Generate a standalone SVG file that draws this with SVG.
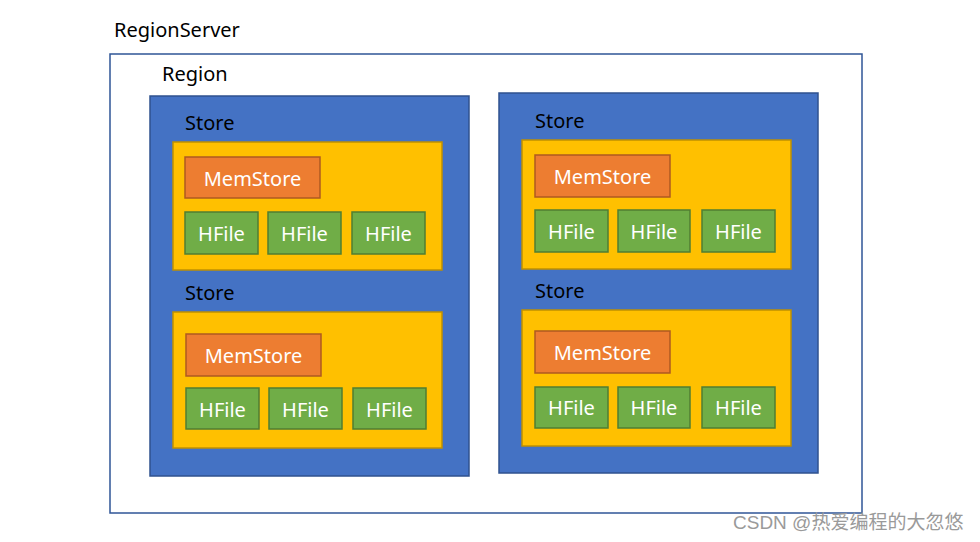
<svg xmlns="http://www.w3.org/2000/svg" width="980" height="542" viewBox="0 0 980 542">
<style>
.t{font-family:"Noto Sans","Open Sans",sans-serif;font-size:20px;fill:#000}
.w{font-family:"Noto Sans","Open Sans",sans-serif;font-size:20px;fill:#fff;text-anchor:middle}
.server{fill:#fff;stroke:#2F5597;stroke-width:1.5}
.region{fill:#4472C4;stroke:#2F528F;stroke-width:1.5}
.store{fill:#FFC000;stroke:#BF9000;stroke-width:1.5}
.mem{fill:#ED7D31;stroke:#AE5A21;stroke-width:1.5}
.hf{fill:#70AD47;stroke:#507E32;stroke-width:1.5}
.wm{font-family:"Liberation Sans","Noto Sans CJK SC",sans-serif;font-size:19px;fill:#9a9a9a}
</style>
<rect width="980" height="542" fill="#fff"/>
<g id="regionserver">
<rect class="server" x="110" y="54" width="752" height="459"/>
<text class="t" x="114" y="37">RegionServer</text>
<text class="t" x="162" y="81">Region</text>
</g>
<g id="region1">
<rect class="region" x="150" y="96" width="319" height="380"/>
</g>
<g id="region2">
<rect class="region" x="499" y="93" width="319" height="380"/>
</g>
<g id="store1">
<text class="t" x="185" y="130">Store</text>
<rect class="store" x="173" y="142" width="269" height="128"/>
<rect class="mem" x="185" y="157" width="135" height="41"/>
<text class="w" x="252.5" y="186">MemStore</text>
<rect class="hf" x="185" y="212" width="73" height="42"/>
<text class="w" x="221.5" y="241">HFile</text>
<rect class="hf" x="268" y="212" width="73" height="42"/>
<text class="w" x="304.5" y="241">HFile</text>
<rect class="hf" x="352" y="212" width="73" height="42"/>
<text class="w" x="388.5" y="241">HFile</text>
</g>
<g id="store2">
<text class="t" x="185" y="300">Store</text>
<rect class="store" x="173" y="312" width="269" height="136"/>
<rect class="mem" x="186" y="334" width="135" height="42"/>
<text class="w" x="253.5" y="363">MemStore</text>
<rect class="hf" x="186" y="388" width="73" height="41"/>
<text class="w" x="222.5" y="417">HFile</text>
<rect class="hf" x="269" y="388" width="73" height="41"/>
<text class="w" x="305.5" y="417">HFile</text>
<rect class="hf" x="353" y="388" width="73" height="41"/>
<text class="w" x="389.5" y="417">HFile</text>
</g>
<g id="store3">
<text class="t" x="535" y="128">Store</text>
<rect class="store" x="522" y="140" width="269" height="129"/>
<rect class="mem" x="535" y="155" width="135" height="42"/>
<text class="w" x="602.5" y="184">MemStore</text>
<rect class="hf" x="535" y="210" width="73" height="42"/>
<text class="w" x="571.5" y="239">HFile</text>
<rect class="hf" x="618" y="210" width="72" height="42"/>
<text class="w" x="654" y="239">HFile</text>
<rect class="hf" x="702" y="210" width="73" height="42"/>
<text class="w" x="738.5" y="239">HFile</text>
</g>
<g id="store4">
<text class="t" x="535" y="298">Store</text>
<rect class="store" x="522" y="310" width="269" height="136"/>
<rect class="mem" x="535" y="331" width="135" height="42"/>
<text class="w" x="602.5" y="360">MemStore</text>
<rect class="hf" x="535" y="387" width="73" height="41"/>
<text class="w" x="571.5" y="415">HFile</text>
<rect class="hf" x="618" y="387" width="72" height="41"/>
<text class="w" x="654" y="415">HFile</text>
<rect class="hf" x="702" y="387" width="73" height="41"/>
<text class="w" x="738.5" y="415">HFile</text>
</g>
<g id="connectors"></g>
<text class="wm" x="733" y="529">CSDN @热爱编程的大忽悠</text>
</svg>
